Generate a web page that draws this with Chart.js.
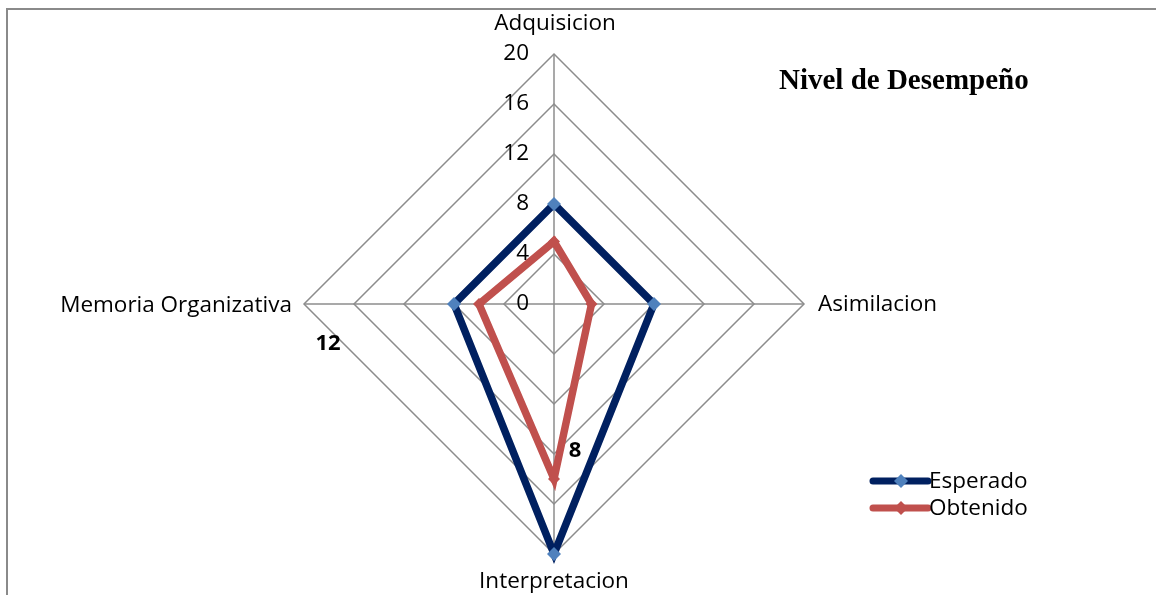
<!DOCTYPE html>
<html>
<head>
<meta charset="utf-8">
<script src="https://cdn.jsdelivr.net/npm/chart.js@4.4.1/dist/chart.umd.min.js"></script>
<style>
  html, body { margin: 0; padding: 0; background: #fff; }
  #wrap { position: relative; width: 1156px; height: 595px; overflow: hidden; }
  #frame { position: absolute; left: 6px; top: 8px; width: 1200px; height: 700px; border: 2px solid #8a8a8a; box-sizing: border-box; }
  #myChart { position: absolute; left: 0; top: 0; }
</style>
</head>
<body>
<div id="wrap">
  <div id="frame"></div>
  <canvas id="myChart" width="1156" height="595"></canvas>
</div>
<script>

const categories = ['Adquisicion', 'Asimilacion', 'Interpretacion', 'Memoria Organizativa']

const esperado = [8, 8, 20, 8]

const obtenido = [5, 3, 14, 6]

const tickLabels = [0, 4, 8, 12, 16, 20]

const chartTitle = 'Nivel de Desempeño'

const fontMain = '"Open Sans", Lato, sans-serif'



// labels, ticks, title and legend drawn by hand so the layout matches
const extrasPlugin = {
  id: 'extras',
  afterDraw(chart) {

    const ctx = chart.ctx
    const scale = chart.scales.r

    ctx.save()
    ctx.fillStyle = '#000'
    ctx.font = '22.5px ' + fontMain
    ctx.textBaseline = 'middle'

    // tick values along the top axis
    ctx.textAlign = 'right'
    tickLabels.forEach((v) => {
      const p = scale.getPointPositionForValue(0, v)
      ctx.fillText(String(v), p.x - 25, p.y)
    })//endForEach

    // point labels
    const top = scale.getPointPositionForValue(0, 20)
    ctx.textAlign = 'center'
    ctx.fillText(categories[0], top.x + 1, top.y - 30)

    const right = scale.getPointPositionForValue(1, 20)
    ctx.textAlign = 'left'
    ctx.fillText(categories[1], right.x + 14, right.y + 1)

    const bottom = scale.getPointPositionForValue(2, 20)
    ctx.textAlign = 'center'
    ctx.fillText(categories[2], bottom.x, bottom.y + 28)

    const left = scale.getPointPositionForValue(3, 20)
    ctx.textAlign = 'right'
    ctx.fillText(categories[3], left.x - 12, left.y + 2)

    // stray data labels
    ctx.font = 'bold 22px ' + fontMain
    const lblA = scale.getPointPositionForValue(3, 20)
    ctx.textAlign = 'center'
    ctx.fillText('12', lblA.x + 24, lblA.y + 40)
    const lblB = scale.getPointPositionForValue(2, 11.7)
    ctx.fillText('8', lblB.x + 21, lblB.y)

    // title
    ctx.font = 'bold 29px "Liberation Serif", "Times New Roman", serif'
    ctx.textAlign = 'left'
    ctx.fillText(chartTitle, 779, 82)

    // legend
    chart.data.datasets.forEach((ds, i) => {
      const y = 481 + i * 27
      ctx.strokeStyle = ds.borderColor
      ctx.lineWidth = 7
      ctx.lineCap = 'round'
      ctx.beginPath()
      ctx.moveTo(873, y)
      ctx.lineTo(928, y)
      ctx.stroke()
      ctx.fillStyle = ds.pointBackgroundColor
      ctx.beginPath()
      ctx.moveTo(901, y - 7)
      ctx.lineTo(908, y)
      ctx.lineTo(901, y + 7)
      ctx.lineTo(894, y)
      ctx.closePath()
      ctx.fill()
      ctx.fillStyle = '#000'
      ctx.font = '22.5px ' + fontMain
      ctx.fillText(ds.label, 929, y + 1)
    })//endForEach

    ctx.restore()
  }
}//endExtras



const datas = {
  labels: categories,
  datasets: [
    {
      label: 'Esperado',
      data: esperado,
      borderColor: '#002060',
      borderWidth: 7.5,
      pointStyle: 'rectRot',
      pointRadius: 7,
      pointBorderWidth: 0,
      pointBackgroundColor: '#4F81BD',
      fill: false
    },
    {
      label: 'Obtenido',
      data: obtenido,
      borderColor: '#C0504D',
      borderWidth: 7.5,
      pointStyle: 'rectRot',
      pointRadius: 6,
      pointBorderWidth: 0,
      pointBackgroundColor: '#C0504D',
      fill: false
    }
  ]
};


const config = {
  type: 'radar',
  data: datas,
  plugins: [extrasPlugin],
  options: {
    responsive: false,
    animation: false,
    layout: { padding: { top: 54, bottom: 41, left: 304, right: 352 } },
    plugins: {
      legend: { display: false },
      tooltip: { enabled: false }
    },
    scales: {
      r: {
        min: 0,
        max: 20,
        ticks: { stepSize: 4, display: false },
        grid: { color: '#8c8c8c', lineWidth: 1.5 },
        angleLines: { color: '#8c8c8c', lineWidth: 1.5 },
        pointLabels: { display: false }
      }
    }
  }
};

const ctx = document.getElementById('myChart');

new Chart(ctx, config);

</script>
</body>
</html>
